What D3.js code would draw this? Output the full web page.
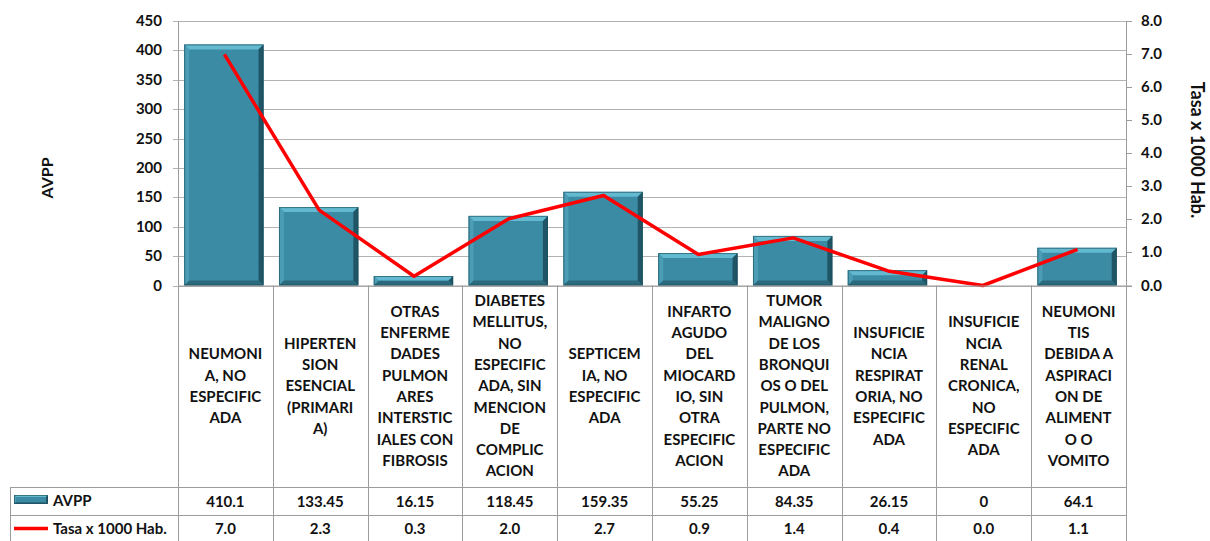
<!DOCTYPE html>
<html>
<head>
<meta charset="utf-8">
<script src="https://cdn.jsdelivr.net/npm/d3@7"></script>
<style>
  body { margin: 0; background: #fff; }
  svg { display: block; font-family: Lato, "Open Sans", sans-serif; }
</style>
</head>
<body>
<svg id="chart" width="1210" height="541"></svg>
<script>
// data
const categories = [
  ["NEUMONI", "A, NO", "ESPECIFIC", "ADA"],
  ["HIPERTEN", "SION", "ESENCIAL", "(PRIMARI", "A)"],
  ["OTRAS", "ENFERME", "DADES", "PULMON", "ARES", "INTERSTIC", "IALES CON", "FIBROSIS"],
  ["DIABETES", "MELLITUS,", "NO", "ESPECIFIC", "ADA, SIN", "MENCION", "DE", "COMPLIC", "ACION"],
  ["SEPTICEM", "IA, NO", "ESPECIFIC", "ADA"],
  ["INFARTO", "AGUDO", "DEL", "MIOCARD", "IO, SIN", "OTRA", "ESPECIFIC", "ACION"],
  ["TUMOR", "MALIGNO", "DE LOS", "BRONQUI", "OS O DEL", "PULMON,", "PARTE NO", "ESPECIFIC", "ADA"],
  ["INSUFICIE", "NCIA", "RESPIRAT", "ORIA, NO", "ESPECIFIC", "ADA"],
  ["INSUFICIE", "NCIA", "RENAL", "CRONICA,", "NO", "ESPECIFIC", "ADA"],
  ["NEUMONI", "TIS", "DEBIDA A", "ASPIRACI", "ON DE", "ALIMENT", "O O", "VOMITO"]
];
const avpp = [410.1, 133.45, 16.15, 118.45, 159.35, 55.25, 84.35, 26.15, 0, 64.1];
const avppLabels = ["410.1", "133.45", "16.15", "118.45", "159.35", "55.25", "84.35", "26.15", "0", "64.1"];
const tasa = [6.99, 2.28, 0.28, 2.02, 2.72, 0.94, 1.44, 0.44, 0, 1.09];
const leftTicks = d3.range(0, 451, 50);
const rightTicks = d3.range(0, 8.01, 1);

const svg = d3.select("#chart");
const plot = { left: 178, right: 1126, top: 21, bottom: 285.5 };
const tableTop = plot.bottom, row1 = 487, row2 = 515, tableBottom = 541, tableLeft = 10;
const gridCol = "#b3b3b3", lineCol = "#9c9c9c";

const x = d3.scaleBand().domain(d3.range(categories.length)).range([plot.left, plot.right])
  .paddingInner(0.163).paddingOuter(0.0815).align(0.4);
const band = d3.scaleBand().domain(d3.range(categories.length)).range([plot.left, plot.right]);
const yL = d3.scaleLinear().domain([0, 450]).range([plot.bottom, plot.top]);
const yR = d3.scaleLinear().domain([0, 8]).range([plot.bottom, plot.top]);

// gridlines
svg.append("g").selectAll("line").data(leftTicks).join("line")
  .attr("x1", plot.left - 5).attr("x2", plot.right)
  .attr("y1", d => Math.round(yL(d)) + 0.5).attr("y2", d => Math.round(yL(d)) + 0.5)
  .attr("stroke", gridCol).attr("stroke-width", 1);

// left axis labels
svg.append("g").selectAll("text").data(leftTicks).join("text")
  .attr("x", 162).attr("y", d => yL(d) + 5)
  .attr("text-anchor", "end").attr("font-size", 15).attr("font-weight", "bold").attr("fill", "#111")
  .text(d => d);

// right axis
svg.append("line").attr("x1", plot.right + 0.5).attr("x2", plot.right + 0.5)
  .attr("y1", plot.top).attr("y2", tableBottom).attr("stroke", lineCol);
svg.append("g").selectAll("line").data(rightTicks).join("line")
  .attr("x1", plot.right).attr("x2", plot.right + 6)
  .attr("y1", d => Math.round(yR(d)) + 0.5).attr("y2", d => Math.round(yR(d)) + 0.5)
  .attr("stroke", lineCol);
svg.append("g").selectAll("text").data(rightTicks).join("text")
  .attr("x", 1141).attr("y", d => yR(d) + 5)
  .attr("font-size", 15).attr("font-weight", "bold").attr("fill", "#111")
  .text(d => d.toFixed(1));

// axis titles
svg.append("text").attr("transform", "translate(53,178) rotate(-90)")
  .attr("text-anchor", "middle").attr("font-size", 16).attr("font-weight", "bold").attr("fill", "#111")
  .text("AVPP");
svg.append("text").attr("transform", "translate(1191,150) rotate(90)")
  .attr("text-anchor", "middle").attr("font-size", 18).attr("font-weight", "bold").attr("fill", "#111")
  .text("Tasa x 1000 Hab.");

// bevelled bars
function bevelBar(g, x0, y0, w, h, b) {
  b = Math.min(b, h / 2, w / 2);
  const x1 = x0 + w, y1 = y0 + h;
  g.append("rect").attr("x", x0).attr("y", y0).attr("width", w).attr("height", h).attr("fill", "#3a8ba3");
  const faces = [
    [[x0, y0], [x1, y0], [x1 - b, y0 + b], [x0 + b, y0 + b], "#62b9d0"],
    [[x0, y0], [x0 + b, y0 + b], [x0 + b, y1 - b], [x0, y1], "#4a9db5"],
    [[x1, y0], [x1, y1], [x1 - b, y1 - b], [x1 - b, y0 + b], "#1f5565"],
    [[x0, y1], [x0 + b, y1 - b], [x1 - b, y1 - b], [x1, y1], "#2a6a7c"]
  ];
  faces.forEach(f => {
    g.append("polygon").attr("points", f.slice(0, 4).map(p => p.join(",")).join(" ")).attr("fill", f[4]);
  });
  g.append("rect").attr("x", x0 + 0.5).attr("y", y0 + 0.5).attr("width", w - 1).attr("height", Math.max(h - 1, 0))
    .attr("fill", "none").attr("stroke", "#1b4a58").attr("stroke-opacity", 0.6);
}
const bars = svg.append("g");
avpp.forEach((v, i) => {
  const h = plot.bottom - yL(v);
  if (h > 0.5) bevelBar(bars, x(i), yL(v), x.bandwidth(), h, 5);
});

// line
const line = d3.line().x((d, i) => band(i) + band.bandwidth() / 2 - 1).y(d => yR(d));
svg.append("path").datum(tasa).attr("d", line)
  .attr("fill", "none").attr("stroke", "#ff0000").attr("stroke-width", 3.5).attr("stroke-linejoin", "round");

// data table
const t = svg.append("g");
t.append("line").attr("x1", plot.left).attr("x2", plot.right + 6)
  .attr("y1", plot.bottom + 0.5).attr("y2", plot.bottom + 0.5).attr("stroke", lineCol);
t.append("line").attr("x1", plot.left + 0.5).attr("x2", plot.left + 0.5)
  .attr("y1", plot.top).attr("y2", tableBottom).attr("stroke", lineCol);
d3.range(1, categories.length + 1).forEach(i => {
  const xx = Math.round(plot.left + i * band.step()) + 0.5;
  t.append("line").attr("x1", xx).attr("x2", xx).attr("y1", plot.bottom).attr("y2", tableBottom).attr("stroke", lineCol);
});
[row1, row2].forEach(yy => {
  t.append("line").attr("x1", tableLeft).attr("x2", plot.right).attr("y1", yy + 0.5).attr("y2", yy + 0.5).attr("stroke", lineCol);
});
t.append("line").attr("x1", tableLeft + 0.5).attr("x2", tableLeft + 0.5).attr("y1", row1).attr("y2", tableBottom).attr("stroke", lineCol);

// category labels, centred in the row
const lh = 21.3;
categories.forEach((lines, i) => {
  const cx = band(i) + band.bandwidth() / 2;
  const cy = (tableTop + row1) / 2;
  const y0 = cy - (lines.length - 1) * lh / 2 + 5;
  const txt = t.append("text").attr("text-anchor", "middle").attr("font-size", 15).attr("font-weight", "bold").attr("fill", "#111");
  lines.forEach((s, j) => txt.append("tspan").attr("x", cx).attr("y", y0 + j * lh).text(s));
});

// value rows
avppLabels.forEach((s, i) => {
  t.append("text").attr("x", band(i) + band.bandwidth() / 2).attr("y", (row1 + row2) / 2 + 6)
    .attr("text-anchor", "middle").attr("font-size", 15).attr("font-weight", "bold").attr("fill", "#111").text(s);
});
tasa.forEach((v, i) => {
  t.append("text").attr("x", band(i) + band.bandwidth() / 2).attr("y", (row2 + tableBottom) / 2 + 6)
    .attr("text-anchor", "middle").attr("font-size", 15).attr("font-weight", "bold").attr("fill", "#111").text(v.toFixed(1));
});

// legend keys
bevelBar(t, 14, 495, 34, 9, 2);
t.append("text").attr("x", 53).attr("y", 506).attr("font-size", 15).attr("font-weight", "bold").attr("fill", "#111").text("AVPP");
t.append("line").attr("x1", 14).attr("x2", 48).attr("y1", 528.5).attr("y2", 528.5).attr("stroke", "#ff0000").attr("stroke-width", 3.5);
t.append("text").attr("x", 53).attr("y", 534).attr("font-size", 15).attr("font-weight", "bold").attr("fill", "#111").text("Tasa x 1000 Hab.");
</script>
</body>
</html>
